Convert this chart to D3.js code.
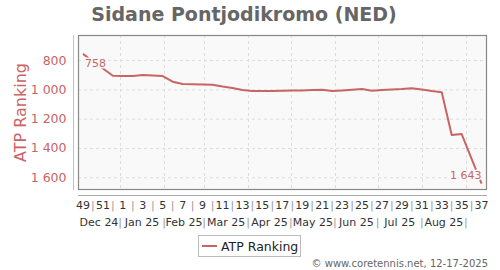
<!DOCTYPE html>
<html>
<head>
<meta charset="utf-8">
<script src="https://cdn.jsdelivr.net/npm/d3@7"></script>
<style>
  body { margin: 0; background: #fff; }
  svg { font-family: "DejaVu Sans", sans-serif; }
</style>
</head>
<body>
<div id="chart"></div>
<script>
// weekly ATP ranking, week 49 of 2024 to week 37 of 2025
var weeks = [49, 50, 51, 52, 1, 2, 3, 4, 5, 6, 7, 8, 9, 10, 11, 12, 13, 14, 15, 16, 17,
    18, 19, 20, 21, 22, 23, 24, 25, 26, 27, 28, 29, 30, 31, 32, 33, 34, 35, 36, 37];
var ranks = [758, 810, 858, 907, 909, 909, 902, 905, 909, 948, 964, 965, 967, 969, 981, 991, 1005, 1012, 1012, 1011, 1010,
    1008, 1007, 1005, 1003, 1012, 1008, 1003, 998, 1010, 1005, 1001, 998, 993, 1001, 1012, 1020, 1312, 1305, 1474, 1643];
var yTicks = [800, 1000, 1200, 1400, 1600];
var firstWeek = Date.UTC(2024, 11, 6);

window.onload = function () {
    var width = 500, height = 270;
    var color = "#c96464";
    var fmt = d3.formatLocale({ decimal: ".", thousands: " ", grouping: [3], currency: ["", ""] }).format(",d");

    var data = ranks.map(function (r, i) {
        return { week: weeks[i], rank: r, date: new Date(firstWeek + i * 7 * 864e5) };
    });

    var left = 78, right = 487, top = 35, bottom = 190;
    var x = d3.scaleUtc()
        .domain([new Date(Date.UTC(2024, 11, 2, 12)), new Date(Date.UTC(2025, 8, 15, 19))])
        .range([left, right]);
    var y = d3.scaleLinear().domain([629, 1687]).range([top, bottom]);

    var svg = d3.select("#chart").append("svg")
        .attr("width", width).attr("height", height);

    svg.append("text")
        .attr("x", 244).attr("y", 21)
        .attr("text-anchor", "middle")
        .style("font-size", "19px").style("font-weight", "bold").style("fill", "#666")
        .text("Sidane Pontjodikromo (NED)");

    svg.append("rect")
        .attr("x", left).attr("y", top)
        .attr("width", right - left).attr("height", bottom - top)
        .style("fill", "#f9f9f9");

    var months = x.ticks(d3.utcMonth);
    // grid
    svg.append("g").selectAll("line").data(yTicks).enter().append("line")
        .attr("x1", left).attr("x2", right)
        .attr("y1", function (d) { return y(d) + 0.5; }).attr("y2", function (d) { return y(d) + 0.5; })
        .style("stroke", "#ddd").style("stroke-dasharray", "3,3");
    svg.append("g").selectAll("line").data(months).enter().append("line")
        .attr("x1", function (d) { return Math.round(x(d)) + 0.5; })
        .attr("x2", function (d) { return Math.round(x(d)) + 0.5; })
        .attr("y1", top).attr("y2", bottom)
        .style("stroke", "#ddd").style("stroke-dasharray", "3,3");

    svg.append("rect")
        .attr("x", left + 0.5).attr("y", top + 0.5)
        .attr("width", right - left - 1).attr("height", bottom - top - 1)
        .style("fill", "none").style("stroke", "#888").style("stroke-width", 1.2);

    // y axis
    var yAxis = svg.append("g")
        .attr("transform", "translate(73.5,0)")
        .call(d3.axisLeft(y).tickValues(yTicks).tickFormat(fmt).tickSize(0).tickPadding(7));
    yAxis.select(".domain").attr("d", "M0," + top + "V" + bottom).style("stroke", "#e0b4b4");
    yAxis.selectAll("text").style("font-size", "12.5px").style("fill", color).style("font-family", "DejaVu Sans");

    svg.append("text")
        .attr("transform", "translate(26," + ((top + bottom) / 2) + ") rotate(-90)")
        .attr("text-anchor", "middle")
        .style("font-size", "16px").style("fill", color)
        .text("ATP Ranking");

    // x axis: week row and month row
    svg.append("line")
        .attr("x1", left).attr("x2", right).attr("y1", 195.5).attr("y2", 195.5)
        .style("stroke", "#aaa");
    var wk = svg.append("g").style("font-size", "11px").style("fill", "#333");
    wk.selectAll("text.wk").data(data.filter(function (d, i) { return i % 2 == 0; }))
        .enter().append("text").attr("class", "wk")
        .attr("x", function (d) { return x(d.date); }).attr("y", 209)
        .attr("text-anchor", "middle").text(function (d) { return d.week; });
    wk.selectAll("text.sep").data(data.filter(function (d, i) { return i % 2 == 1; }))
        .enter().append("text").attr("class", "sep")
        .attr("x", function (d) { return x(d.date); }).attr("y", 209)
        .attr("text-anchor", "middle").style("fill", "#999").text("|");

    var mg = svg.append("g").style("font-size", "11px").style("fill", "#333");
    var bounds = [x.domain()[0]].concat(months).concat([x.domain()[1]]);
    var segs = [];
    for (var i = 0; i < bounds.length - 1; i++) {
        var a = x(bounds[i]), b = x(bounds[i + 1]);
        if (b - a > 30) segs.push({ mid: (a + b) / 2, label: d3.utcFormat("%b %y")(d3.utcMonth.floor(bounds[i])) });
    }
    mg.selectAll("text.m").data(segs).enter().append("text").attr("class", "m")
        .attr("x", function (d) { return d.mid; }).attr("y", 226)
        .attr("text-anchor", "middle").text(function (d) { return d.label; });
    mg.selectAll("text.ms").data(months).enter().append("text").attr("class", "ms")
        .attr("x", function (d) { return x(d); }).attr("y", 226)
        .attr("text-anchor", "middle").style("fill", "#999").text("|");

    // line
    var line = d3.line()
        .x(function (d) { return x(d.date); })
        .y(function (d) { return y(d.rank); });
    svg.append("path").datum(data)
        .attr("d", line)
        .style("fill", "none").style("stroke", color).style("stroke-width", 2)
        .style("stroke-linejoin", "round");

    var first = data[0], last = data[data.length - 1];
    svg.append("text")
        .attr("x", x(first.date) + 2).attr("y", y(first.rank) + 13)
        .style("font-size", "11px").style("fill", color)
        .style("paint-order", "stroke").style("stroke", "#f9f9f9").style("stroke-width", 3)
        .text(fmt(first.rank));
    svg.append("text")
        .attr("x", x(last.date)).attr("y", y(last.rank) - 5)
        .attr("text-anchor", "end")
        .style("font-size", "11px").style("fill", color)
        .style("paint-order", "stroke").style("stroke", "#f9f9f9").style("stroke-width", 3)
        .text(fmt(last.rank));

    // legend
    var lg = svg.append("g");
    lg.append("rect")
        .attr("x", 198.5).attr("y", 235.5).attr("width", 102).attr("height", 21)
        .style("fill", "#fff").style("stroke", "#bbb");
    lg.append("line")
        .attr("x1", 202).attr("x2", 217).attr("y1", 246).attr("y2", 246)
        .style("stroke", color).style("stroke-width", 2);
    lg.append("text")
        .attr("x", 221).attr("y", 250.5)
        .style("font-size", "12.5px").style("fill", "#222")
        .text("ATP Ranking");

    svg.append("text")
        .attr("x", 488).attr("y", 267)
        .attr("text-anchor", "end")
        .style("font-size", "10px").style("fill", "#666")
        .text("\u00a9 www.coretennis.net, 12-17-2025");
}
</script>
</body>
</html>
